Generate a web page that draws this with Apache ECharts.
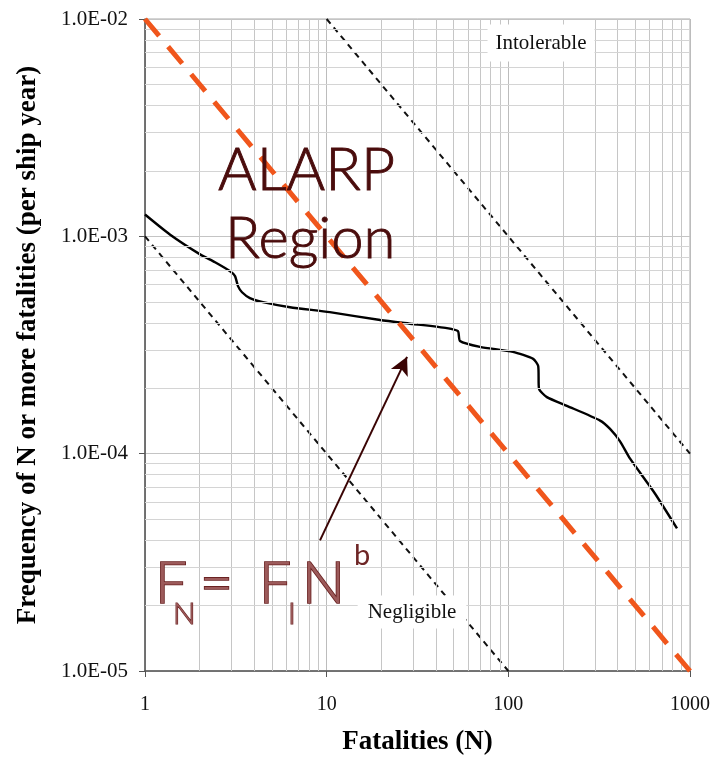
<!DOCTYPE html>
<html>
<head>
<meta charset="utf-8">
<script src="https://cdn.jsdelivr.net/npm/echarts@6/dist/echarts.min.js"></script>
<style>html,body{margin:0;padding:0;background:#fff;}#c{width:713px;height:761px;}</style>
</head>
<body>
<div id="c"></div>
<script>
// ---- data ----
const xTickLabels = ['1', '10', '100', '1000'];
const yTickLabels = ['1.0E-05', '1.0E-04', '1.0E-03', '1.0E-02'];
const xMinor = [2,3,4,5,6,7,8,9,20,30,40,50,60,70,80,90,200,300,400,500,600,700,800,900];
const yMinor = [2e-5,3e-5,4e-5,5e-5,6e-5,7e-5,8e-5,9e-5,2e-4,3e-4,4e-4,5e-4,6e-4,7e-4,8e-4,9e-4,2e-3,3e-3,4e-3,5e-3,6e-3,7e-3,8e-3,9e-3];
const xRange = [1, 1000];
const yRange = [1e-5, 1e-2];

// FN curve (N, frequency)
const curveN = [1, 1.37, 2.01, 2.43, 2.94, 3.13, 3.25, 3.42, 3.78, 4.46, 6.28, 10.4, 19.7, 29.9, 45.9, 52.8, 54.2, 69.8, 106, 137, 146, 147.5, 163, 210, 320, 363, 412, 468, 641, 848];
const curveF = [1.26e-3, 1.02e-3, 8.26e-4, 7.6e-4, 6.91e-4, 6.56e-4, 5.9e-4, 5.53e-4, 5.2e-4, 4.98e-4, 4.72e-4, 4.48e-4, 4.12e-4, 3.95e-4, 3.78e-4, 3.66e-4, 3.3e-4, 3.1e-4, 2.94e-4, 2.73e-4, 2.53e-4, 1.99e-4, 1.82e-4, 1.66e-4, 1.42e-4, 1.3e-4, 1.14e-4, 9.48e-5, 6.56e-5, 4.53e-5];

// criterion lines
const alarpN = [1, 1000];
const alarpF = [1e-2, 1e-5];
const intolerableN = [10, 1000];
const intolerableF = [1e-2, 1e-4];
const negligibleN = [1, 100];
const negligibleF = [1e-3, 1e-5];

// arrow
const arrowFrom = [9.19, 3.99e-5];
const arrowTo = [27.7, 2.79e-4];

const zip = (a, b) => a.map((v, i) => [v, b[i]]);

const chart = echarts.init(document.getElementById('c'), null, {renderer: 'canvas'});
const serif = 'Liberation Serif';
const sans = 'Lato';

const fml = (text, x, y, size) => ({
  type: 'text', x: x, y: y, z: 10,
  style: {text: text, fontFamily: sans, fontWeight: 300, fontSize: size, fill: '#9c5a5a', stroke: '#6a2222',
    lineWidth: size > 40 ? 1.7 : 1.2, align: 'left', verticalAlign: 'middle'}
});

const gridLineData = xMinor.map(v => [{coord: [v, yRange[0]], lineStyle: {color: '#c6c6c6'}}, {coord: [v, yRange[1]]}])
  .concat(yMinor.map(v => [{coord: [xRange[0], v], lineStyle: {color: '#d4d4d4'}}, {coord: [xRange[1], v]}]));

const option = {
  animation: false,
  backgroundColor: '#fff',
  grid: {left: 145, right: 23, top: 19, bottom: 88, show: true, borderColor: '#a8a8a8', borderWidth: 1},
  xAxis: {
    type: 'log', logBase: 10, min: xRange[0], max: xRange[1],
    name: 'Fatalities (N)', nameLocation: 'middle', nameGap: 58,
    nameTextStyle: {fontFamily: serif, fontWeight: 'bold', fontSize: 27, color: '#000'},
    axisLine: {show: true, lineStyle: {color: '#555', width: 1.5}},
    axisTick: {show: true, inside: false, length: 6, lineStyle: {color: '#555'}},
    axisLabel: {fontFamily: serif, fontSize: 20, color: '#111', margin: 24,
      formatter: v => xTickLabels[Math.round(Math.log10(v))]},
    splitLine: {show: true, lineStyle: {color: '#bcbcbc', width: 1}},
    minorTick: {show: false}, minorSplitLine: {show: false}
  },
  yAxis: {
    type: 'log', logBase: 10, min: yRange[0], max: yRange[1],
    name: 'Frequency of N or more fatalities (per ship year)', nameLocation: 'middle', nameGap: 103, nameRotate: 90,
    nameTextStyle: {fontFamily: serif, fontWeight: 'bold', fontSize: 27, color: '#000'},
    axisLine: {show: true, lineStyle: {color: '#555', width: 1.5}},
    axisTick: {show: true, inside: false, length: 6, lineStyle: {color: '#555'}},
    axisLabel: {fontFamily: serif, fontSize: 21, color: '#111', margin: 17,
      formatter: v => yTickLabels[Math.round(Math.log10(v)) + 5]},
    splitLine: {show: true, lineStyle: {color: '#c4c4c4', width: 1}},
    minorTick: {show: false}, minorSplitLine: {show: false}
  },
  series: [
    {
      type: 'line', data: [], silent: true, z: 1,
      markLine: {
        silent: true, symbol: ['none', 'none'], animation: false,
        label: {show: false},
        lineStyle: {type: 'solid', width: 1, color: '#c6c6c6'},
        emphasis: {disabled: true},
        data: gridLineData
      }
    },
    {
      name: 'Intolerable', type: 'line', data: zip(intolerableN, intolerableF), showSymbol: false, symbol: 'none',
      lineStyle: {color: '#111', width: 2, type: [6, 5]}, z: 3
    },
    {
      name: 'Negligible', type: 'line', data: zip(negligibleN, negligibleF), showSymbol: false, symbol: 'none',
      lineStyle: {color: '#111', width: 2, type: [6, 5]}, z: 3
    },
    {
      name: 'FN', type: 'line', data: zip(curveN, curveF), showSymbol: false, symbol: 'none', smooth: 0.2,
      lineStyle: {color: '#000', width: 2.4}, z: 4
    },
    {
      name: 'ALARP', type: 'line', data: zip(alarpN, alarpF), showSymbol: false, symbol: 'none',
      lineStyle: {color: '#f0561c', width: 5, type: [22, 14]}, z: 5
    },
    {
      type: 'line', data: [], silent: true, z: 6,
      markLine: {
        silent: true, symbol: ['none', 'arrow'], symbolSize: [14, 18], animation: false,
        label: {show: false}, emphasis: {disabled: true},
        lineStyle: {color: '#3a0404', width: 2, type: 'solid'},
        data: [[{coord: arrowFrom}, {coord: arrowTo}]]
      }
    }
  ],
  graphic: [
    {type: 'text', x: 541, y: 43, z: 10, style: {text: 'Intolerable', fontFamily: serif, fontSize: 21, fill: '#111',
      align: 'center', verticalAlign: 'middle', backgroundColor: '#fff', padding: [8, 8]}},
    {type: 'text', x: 412, y: 612, z: 10, style: {text: 'Negligible', fontFamily: serif, fontSize: 21, fill: '#111',
      align: 'center', verticalAlign: 'middle', backgroundColor: '#fff', padding: [6, 10]}},
    {type: 'text', x: 218, y: 171, z: 10, style: {text: 'ALARP', fontFamily: sans, fontWeight: 300, fontSize: 59, fill: '#4a0c0c', stroke: '#4a0c0c', lineWidth: 0.9, align: 'left', verticalAlign: 'middle'}},
    {type: 'text', x: 225, y: 239, z: 10, style: {text: 'Region', fontFamily: sans, fontWeight: 300, fontSize: 58, fill: '#4a0c0c', stroke: '#4a0c0c', lineWidth: 0.9, align: 'left', verticalAlign: 'middle'}},
    fml('F', 155, 585, 57),
    fml('N', 173, 614, 30),
    fml('=', 200, 585, 57),
    fml('F', 259, 585, 57),
    fml('I', 288, 614, 30),
    fml('N', 302, 585, 57),
    {type: 'text', x: 354, y: 556, z: 10, style: {text: 'b', fontFamily: sans, fontWeight: 400, fontSize: 29, fill: '#6e2626', align: 'left', verticalAlign: 'middle'}}
  ]
};
chart.setOption(option);
</script>
</body>
</html>
